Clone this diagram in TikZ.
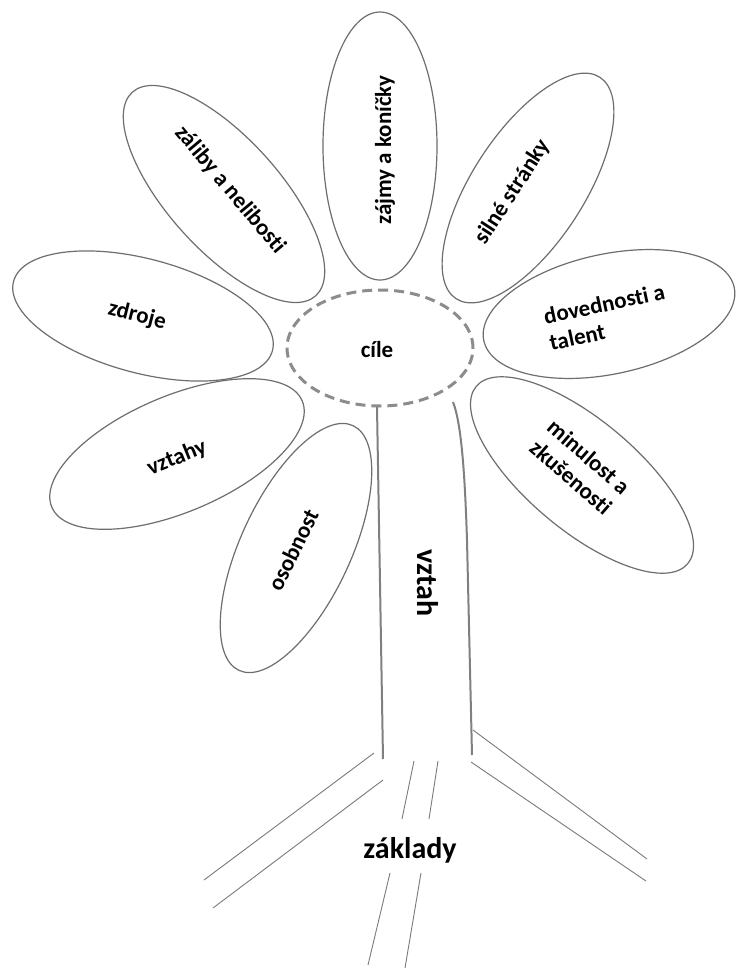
\documentclass[tikz,border=0pt]{standalone}
\usepackage{fontspec}
\setmainfont{Carlito}[Ligatures=NoCommon]
\usetikzlibrary{shapes.geometric}
\definecolor{petalgray}{HTML}{6E6E6E}
\definecolor{stemgray}{HTML}{808080}
\definecolor{dashgray}{HTML}{8C8C8C}
\definecolor{rootgray}{HTML}{7A7A7A}
\begin{document}
\begin{tikzpicture}[x=1pt,y=-1pt,
  petal/.style={draw=petalgray, line width=1.2pt, ellipse, inner sep=0pt},
  lbl/.style={font=\fontsize{23}{27}\selectfont\bfseries, align=center, inner sep=0pt},
  big/.style={font=\fontsize{30}{34}\selectfont\bfseries, inner sep=0pt},
  stemline/.style={draw=stemgray, line width=2pt},
  rootline/.style={draw=rootgray, line width=0.9pt}]
\useasboundingbox[fill=white] (0,0) rectangle (736,970);

% petals
\node[petal, minimum width=268pt, minimum height=114pt, rotate=90]  (p1) at (380,146) {};
\node[petal, minimum width=274pt, minimum height=112pt, rotate=-48] (p2) at (224,194) {};
\node[petal, minimum width=264pt, minimum height=112pt, rotate=57]  (p3) at (528,188) {};
\node[petal, minimum width=256pt, minimum height=120pt, rotate=12]  (p4) at (609,314) {};
\node[petal, minimum width=276pt, minimum height=110pt, rotate=-40] (p5) at (582,475) {};
\node[petal, minimum width=268pt, minimum height=114pt, rotate=-15] (p6) at (143,316) {};
\node[petal, minimum width=272pt, minimum height=116pt, rotate=23]  (p7) at (177,454) {};
\node[petal, minimum width=270pt, minimum height=110pt, rotate=65]  (p8) at (296,548) {};

% petal labels
\node[lbl, rotate=90]  (t1) at (385,150) {zájmy a koníčky};
\node[lbl, rotate=-50] (t2) at (230,190) {záliby a nelibosti};
\node[lbl, rotate=57]  (t3) at (513,192) {silné stránky};
\node[lbl, rotate=12, align=left] (t4) at (607,317) {dovednosti a\\talent};
\node[lbl, rotate=-41] (t5) at (580,467) {minulost a\\zkušenosti};
\node[lbl, rotate=-14] (t6) at (137,316) {zdroje};
\node[lbl, rotate=22]  (t7) at (177,458) {vztahy};
\node[lbl, rotate=64]  (t8) at (293,550) {osobnost};

% centre
\node[draw=dashgray, line width=3pt, dash pattern=on 10pt off 6pt, ellipse,
      minimum width=186pt, minimum height=116pt, inner sep=0pt] (goal) at (380,348) {};
\node[lbl] (t0) at (377,350) {cíle};

% stem
\coordinate (sl1) at (377,407);
\coordinate (sl2) at (383,759);
\coordinate (sr1) at (453,402);
\coordinate (sr2) at (472,755);
\draw[stemline] (sl1) -- (sl2);
\draw[stemline] (sr1) .. controls (462,425) and (465,480) .. (467,540) -- (sr2);
\node[big, rotate=-90] (stemlbl) at (428,583) {vztah};

% roots
\draw[rootline] (374,753) -- (204,880);
\draw[rootline] (383,780) -- (213,908);
\draw[rootline] (414,761) -- (402,819);
\draw[rootline] (438,761) -- (429,819);
\draw[rootline] (390,873) -- (368,965);
\draw[rootline] (421,873) -- (405,968);
\draw[rootline] (473,730) -- (647,859);
\draw[rootline] (471,762) -- (646,881);
\node[big] (rootlbl) at (410,850) {základy};
\end{tikzpicture}
\end{document}
